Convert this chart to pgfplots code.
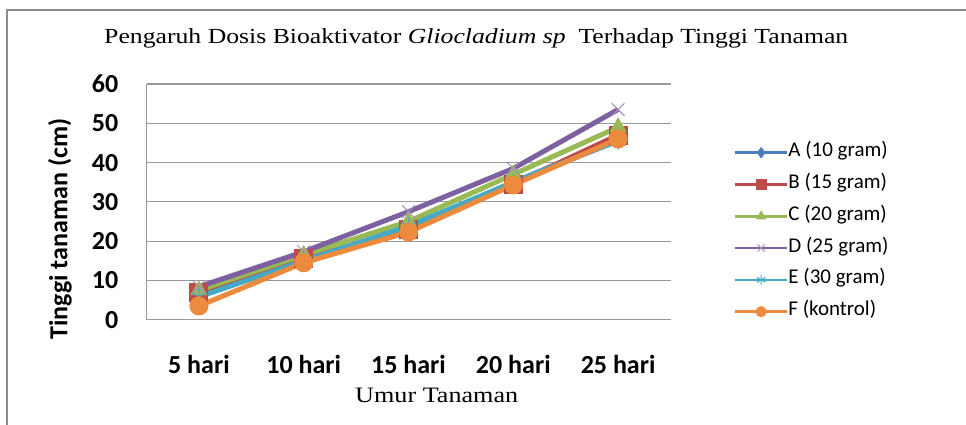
\documentclass[border=0pt]{standalone}
\usepackage{fontspec}
\setmainfont{Carlito}
\newfontfamily\serifont{Liberation Serif}
\usepackage{graphicx}
\usepackage{pgfplots}
\pgfplotsset{compat=1.18}
\definecolor{cA}{HTML}{4A7EBB}
\definecolor{cB}{HTML}{BE4B48}
\definecolor{cC}{HTML}{98B954}
\definecolor{cD}{HTML}{7D60A0}
\definecolor{cE}{HTML}{46AAC5}
\definecolor{cF}{HTML}{EC8A3E}
\definecolor{gridc}{HTML}{999999}
\definecolor{borderc}{HTML}{8C8C8C}
\begin{document}
\begin{tikzpicture}[x=1pt,y=1pt]
\useasboundingbox (0,0) rectangle (966,424);
\draw[line width=2pt, color=borderc] (7,-5) -- (7,414) -- (975,414);
\node[anchor=base west, inner sep=0pt] at (104,380.7) {\resizebox{744pt}{\height}{\serifont\fontsize{21.5}{21.5}\selectfont Pengaruh Dosis Bioaktivator \textit{Gliocladium sp}\ \ Terhadap Tinggi Tanaman}};
\begin{axis}[
  at={(146.5pt,104.3pt)}, anchor=south west,
  scale only axis, width=524pt, height=235.7pt,
  xmin=-0.5, xmax=4.5, ymin=0, ymax=60,
  xtick={0,1,2,3,4},
  xticklabels={5 hari,10 hari,15 hari,20 hari,25 hari},
  ytick={0,10,20,30,40,50,60},
  ymajorgrids, grid style={color=gridc, line width=1.2pt},
  axis x line*=bottom, axis y line*=left,
  axis line style={color=gridc, line width=1.2pt},
  major tick length=0pt, tick style={draw=none},
  /pgf/number format/assume math mode=true,
  ticklabel style={font=\bfseries\fontsize{26}{26}\selectfont},
  yticklabel style={anchor=east, inner sep=0pt, xshift=-28pt},
  xticklabel style={anchor=base, inner sep=0pt, yshift=-54pt},
  clip=false,
  legend style={at={(axis description cs:1.121,0.7511)}, anchor=north west,
    draw=none, fill=none, inner sep=0pt, outer sep=0pt, row sep=11.8pt,
    font=\fontsize{21}{21}\selectfont,
    nodes={inner sep=0pt, text height=14pt, text depth=6pt},
    /tikz/every even column/.append style={column sep=4pt}},
  legend cell align=left,
  legend image code/.code={
    \draw[mark repeat=2, mark phase=2, #1, line width=2.5pt, mark size=5pt]
      plot coordinates {(0pt,0pt) (26pt,0pt) (52pt,0pt)};},
]
\addplot[color=cA, line width=5pt, mark=diamond*, mark size=9pt, mark options={solid, line width=1pt}]
  coordinates {(0,6) (1,15) (2,23.5) (3,35) (4,46)};
\addlegendentry{A (10 gram)}
\addplot[color=cB, line width=5pt, mark=square*, mark size=9pt, mark options={solid, line width=1pt}]
  coordinates {(0,7) (1,15.5) (2,23) (3,34.5) (4,47)};
\addlegendentry{B (15 gram)}
\addplot[color=cC, line width=5pt, mark=triangle*, mark size=9pt, mark options={solid, line width=1pt}]
  coordinates {(0,7.5) (1,16.5) (2,25) (3,37) (4,49)};
\addlegendentry{C (20 gram)}
\addplot[color=cD, line width=5pt, mark=x, mark size=9pt, mark options={solid, line width=1pt, color=cD!70!white}]
  coordinates {(0,8.4) (1,17.3) (2,27.5) (3,38.5) (4,53.5)};
\addlegendentry{D (25 gram)}
\addplot[color=cE, line width=5pt, mark=asterisk, mark size=9pt, mark options={solid, line width=1pt}]
  coordinates {(0,5.8) (1,15) (2,23.8) (3,35) (4,45.5)};
\addlegendentry{E (30 gram)}
\addplot[color=cF, line width=5pt, mark=*, mark size=9pt, mark options={solid, line width=1pt}]
  coordinates {(0,3.5) (1,14.5) (2,22.3) (3,34.3) (4,46)};
\addlegendentry{F (kontrol)}
\end{axis}
\node[rotate=90, font=\bfseries\fontsize{26}{26}\selectfont] at (60,195) {Tinggi tanaman (cm)};
\node[anchor=base west, inner sep=0pt] at (355,21.7) {\resizebox{163pt}{\height}{\serifont\fontsize{22}{22}\selectfont Umur Tanaman}};
\end{tikzpicture}
\end{document}
